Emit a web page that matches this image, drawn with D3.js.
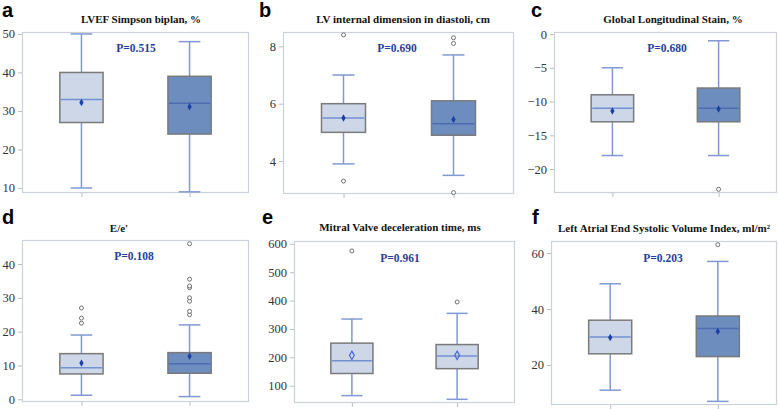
<!DOCTYPE html>
<html><head><meta charset="utf-8">
<script src="https://cdn.jsdelivr.net/npm/d3@7"></script>
<style>
body{margin:0;background:#fff;}
svg{display:block;}
</style></head>
<body>
<script>
// ---------- data ----------
const panelLetters = ["a", "b", "c", "d", "e", "f"];
const titles = [
  "LVEF Simpson biplan, %",
  "LV internal dimension in diastoli, cm",
  "Global Longitudinal Stain, %",
  "E/e'",
  "Mitral Valve deceleration time, ms",
  "Left Atrial End Systolic Volume Index, ml/m\u00B2"
];
const pValues = ["P=0.515", "P=0.690", "P=0.680", "P=0.108", "P=0.961", "P=0.203"];
const groups = ["Group 1", "Group 2"];
const yTicks = [
  [10, 20, 30, 40, 50],
  [4, 6, 8],
  [-20, -15, -10, -5, 0],
  [0, 10, 20, 30, 40],
  [100, 200, 300, 400, 500, 600],
  [20, 40, 60]
];
const yDomains = [[8.7, 50.5], [2.85, 8.5], [-23.55, 0.3], [-0.8, 47.1], [39, 610], [5.7, 64.3]];
// per panel: [group1, group2]
const whiskerLow  = [[10, 9], [3.9, 3.5], [-18, -18], [1.2, 0.8], [65, 52], [11, 7]];
const q1Values    = [[27, 24], [5.0, 4.9], [-13, -13], [7.5, 7.7], [143, 160], [24, 23]];
const medians     = [[33, 32], [5.5, 5.3], [-11, -11], [9.3, 10.5], [188, 205], [30, 33]];
const q3Values    = [[40, 39], [6.0, 6.1], [-9, -8], [13.5, 13.8], [250, 245], [36, 37.5]];
const whiskerHigh = [[50, 48], [7.0, 7.7], [-5, -1], [19, 22], [335, 355], [49, 57]];
const means       = [[32.2, 31.1], [5.5, 5.45], [-11.4, -11.1], [10.7, 12.7], [207, 207], [29.8, 32]];
const outliers    = [
  [[], []],
  [[8.4, 3.3], [8.3, 8.1, 2.9]],
  [[], [-23]],
  [[22.5, 24, 27], [25, 26, 29, 30, 33, 33.5, 35.5, 46]],
  [[575], [395]],
  [[], [63]]
];

// ---------- layout ----------
const W = 778, H = 409;
const frames = [
  {x0: 22, x1: 249, y0: 32, y1: 193},
  {x0: 283, x1: 514, y0: 32, y1: 194},
  {x0: 554, x1: 777, y0: 32, y1: 193},
  {x0: 22, x1: 249, y0: 240, y1: 402},
  {x0: 294, x1: 515, y0: 241, y1: 403},
  {x0: 551, x1: 777, y0: 241, y1: 405}
];
const letterPos = [[2, 17], [259, 17], [531, 17], [2, 224], [262, 224], [532, 224]];
const titlePos = [[141, 23], [403, 23], [673, 23], [119, 232], [400, 231], [664, 232]];
const pPos = [[136, 52], [397, 52], [667, 52], [134, 260], [400, 262], [663, 262]];
const darkSecond = [true, true, true, true, false, true];
const hollowMean = [false, false, false, false, true, false];

const lightFill = "#cdd7e8", darkFill = "#6e8dbf";
const boxStroke = "#7a7a7a";
const whiskerColor = "#8099d4";
const serif = "Liberation Serif";

const svg = d3.select("body").append("svg").attr("width", W).attr("height", H);

frames.forEach((f, i) => {
  const g = svg.append("g");
  const x = d3.scalePoint().domain(groups).range([f.x0, f.x1]).padding(0.55);
  const y = d3.scaleLinear().domain(yDomains[i]).range([f.y1, f.y0]);
  const bw = x.step() * 0.4;

  // frame
  g.append("rect").attr("x", f.x0 + 0.5).attr("y", f.y0 + 0.5)
    .attr("width", f.x1 - f.x0 - 1).attr("height", f.y1 - f.y0 - 1)
    .attr("fill", "#fff").attr("stroke", "#cdd2da").attr("stroke-width", 1.2);

  // axes
  const ay = g.append("g").attr("transform", `translate(${f.x0},0)`)
    .call(d3.axisLeft(y).tickValues(yTicks[i]).tickSize(4).tickPadding(3).tickFormat(d3.format("d")));
  ay.select(".domain").remove();
  ay.attr("font-family", serif).attr("font-size", 12.5);
  ay.selectAll(".tick text").attr("fill", "#333").attr("font-family", serif);
  ay.selectAll(".tick line").attr("stroke", "#b8bec8");
  const ax = g.append("g").attr("transform", `translate(0,${f.y1})`)
    .call(d3.axisBottom(x).tickSize(4).tickFormat(""));
  ax.select(".domain").remove();
  ax.selectAll(".tick line").attr("stroke", "#b8bec8");

  groups.forEach((grp, j) => {
    const cx = x(grp);
    const dark = j === 1 && darkSecond[i];
    // whiskers
    g.append("line").attr("x1", cx).attr("x2", cx)
      .attr("y1", y(whiskerLow[i][j])).attr("y2", y(q1Values[i][j]))
      .attr("stroke", whiskerColor).attr("stroke-width", 1.5);
    g.append("line").attr("x1", cx).attr("x2", cx)
      .attr("y1", y(q3Values[i][j])).attr("y2", y(whiskerHigh[i][j]))
      .attr("stroke", whiskerColor).attr("stroke-width", 1.5);
    [whiskerLow[i][j], whiskerHigh[i][j]].forEach(v => {
      g.append("line").attr("x1", cx - bw / 4).attr("x2", cx + bw / 4)
        .attr("y1", y(v)).attr("y2", y(v))
        .attr("stroke", whiskerColor).attr("stroke-width", 1.5);
    });
    // box
    g.append("rect").attr("x", cx - bw / 2).attr("y", y(q3Values[i][j]))
      .attr("width", bw).attr("height", y(q1Values[i][j]) - y(q3Values[i][j]))
      .attr("fill", dark ? darkFill : lightFill)
      .attr("stroke", boxStroke).attr("stroke-width", 1.5);
    // median
    g.append("line").attr("x1", cx - bw / 2 + 1).attr("x2", cx + bw / 2 - 1)
      .attr("y1", y(medians[i][j])).attr("y2", y(medians[i][j]))
      .attr("stroke", dark ? "#4d6db2" : "#7391d2").attr("stroke-width", 1.5);
    // mean
    g.append("path").attr("d", d3.symbol(d3.symbolDiamond, hollowMean[i] ? 20 : 16)())
      .attr("transform", `translate(${cx},${y(means[i][j])})`)
      .attr("fill", hollowMean[i] ? "none" : "#1f3fa8")
      .attr("stroke", hollowMean[i] ? "#4a6ad0" : "none").attr("stroke-width", 1.2);
    // outliers
    outliers[i][j].forEach(v => {
      g.append("circle").attr("cx", cx).attr("cy", y(v)).attr("r", 2)
        .attr("fill", "#fff").attr("stroke", "#707070").attr("stroke-width", 1);
    });
  });

  // texts
  svg.append("text").attr("x", letterPos[i][0]).attr("y", letterPos[i][1])
    .attr("font-family", "Liberation Sans").attr("font-weight", "bold")
    .attr("font-size", 20).attr("fill", "#000").text(panelLetters[i]);
  svg.append("text").attr("x", titlePos[i][0]).attr("y", titlePos[i][1])
    .attr("text-anchor", "middle").attr("font-family", serif).attr("font-weight", "bold")
    .attr("font-size", 11).attr("fill", "#111").text(titles[i]);
  svg.append("text").attr("x", pPos[i][0]).attr("y", pPos[i][1])
    .attr("text-anchor", "middle").attr("font-family", serif).attr("font-weight", "bold")
    .attr("font-size", 11.5).attr("fill", "#1f3f9f").text(pValues[i]);
});
</script>
</body></html>
